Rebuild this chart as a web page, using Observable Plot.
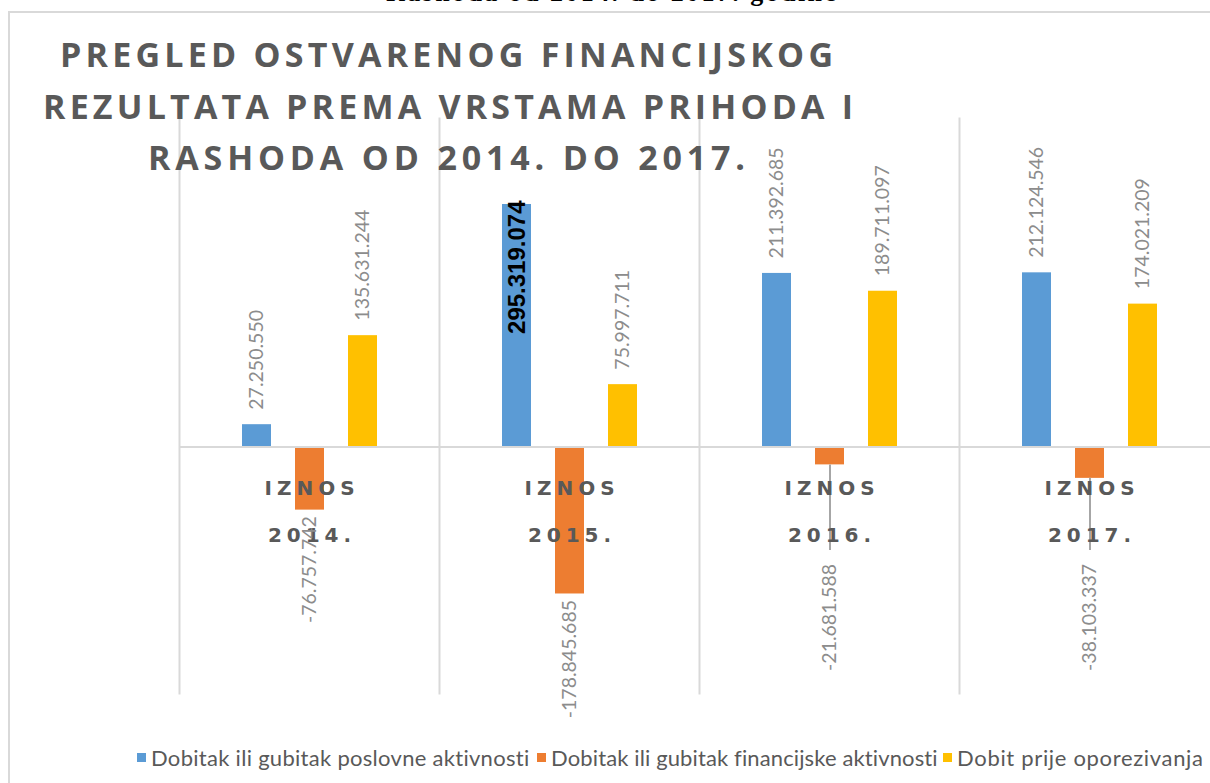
<!DOCTYPE html>
<html>
<head>
<meta charset="utf-8">
<script src="https://cdn.jsdelivr.net/npm/d3@7"></script>
<script src="https://cdn.jsdelivr.net/npm/@observablehq/plot@0.6"></script>
<style>
  html, body { margin: 0; padding: 0; background: #fff; }
  #wrap { position: relative; width: 1210px; height: 783px; overflow: hidden; background: #fff; }
  #box { position: absolute; left: 8px; top: 11px; width: 1400px; height: 1000px;
         border-left: 2px solid #d9d9d9; border-top: 2px solid #d9d9d9; }
  #chart { position: absolute; left: 0; top: 0; }
  #chart svg { max-width: none !important; }
  .fit { position: absolute; white-space: nowrap; display: inline-block; line-height: 1; }
  #topcut { font-family: "Liberation Serif", serif; font-weight: bold; font-size: 26px; color: #000; }
  .title { font-family: "Open Sans", sans-serif; font-weight: 700; font-size: 34px; color: #595959; }
  .leg { font-family: Lato, "Open Sans", sans-serif; font-size: 22px; color: #595959; }
  .sw { position: absolute; width: 9px; height: 9px; }
</style>
</head>
<body>
<div id="wrap">
  <div id="box"></div>
  <div id="chart"></div>
  <span id="topcut" class="fit" data-x="386" data-y="-20" data-w="450">Rashoda od 2014. do 2017. godine</span>
  <span class="fit title" data-x="60" data-y="37" data-w="773">PREGLED OSTVARENOG FINANCIJSKOG</span>
  <span class="fit title" data-x="43" data-y="89" data-w="810">REZULTATA PREMA VRSTAMA PRIHODA I</span>
  <span class="fit title" data-x="148" data-y="140" data-w="597">RASHODA OD 2014. DO 2017.</span>
  <div id="legend"></div>
</div>
<script>
// ---- data ----
const years = ["2014.", "2015.", "2016.", "2017."];
const series = [
  "Dobitak ili gubitak poslovne aktivnosti",
  "Dobitak ili gubitak financijske aktivnosti",
  "Dobit prije oporezivanja"
];
const poslovne    = [27250550, 295319074, 211392685, 212124546];
const financijske = [-76757742, -178845685, -21681588, -38103337];
const dobit       = [135631244, 75997711, 189711097, 174021209];
const colors = ["#5b9bd5", "#ed7d31", "#ffc000"];
const categoryPrefix = "IZNOS";
// years whose negative label was dragged away from its bar (with a leader line)
const leaderYears = ["2016.", "2017."];

const values = [poslovne, financijske, dobit];
const data = years.flatMap((year, i) =>
  series.map((s, j) => ({year, series: s, value: values[j][i]})));

const locale = d3.formatLocale({decimal: ",", thousands: ".", grouping: [3], currency: ["", ""], minus: "-"});
const fmt = locale.format(",d");
const maxValue = d3.max(data, d => d.value);

const labelAt = -135e6, leaderEnd = -126e6;
const isLeader = d => d.value < 0 && leaderYears.includes(d.year);

const chart = Plot.plot({
  width: 1230,
  height: 783,
  marginLeft: 178,
  marginRight: 11,
  marginTop: 118,
  marginBottom: 90,
  style: {background: "transparent", overflow: "visible", maxWidth: "none"},
  fx: {domain: years, padding: 0, axis: null},
  x: {domain: series, paddingInner: 0.46, paddingOuter: 1.18, axis: null},
  y: {domain: [-300e6, 400e6], axis: null},
  color: {domain: series, range: colors},
  marks: [
    Plot.frame({anchor: "left", stroke: "#d9d9d9", strokeWidth: 2}),
    Plot.barY(data, {fx: "year", x: "series", y: "value", fill: "series"}),
    Plot.ruleY([0], {stroke: "#d9d9d9", strokeWidth: 2}),
    Plot.ruleX(data.filter(isLeader), {fx: "year", x: "series", y1: "value", y2: leaderEnd, stroke: "#a6a6a6", strokeWidth: 2}),
    Plot.text(years, {fx: d => d, text: d => categoryPrefix + "\n" + d, frameAnchor: "top", lineAnchor: "middle", dy: 384.75, dx: 2.5,
      lineHeight: 2.375, fontFamily: "DejaVu Sans, sans-serif", fontWeight: "bold", fontSize: 20, fill: "#595959"}),
    Plot.text(data.filter(d => d.value > 0 && d.value !== maxValue), {fx: "year", x: "series", y: "value",
      text: d => fmt(d.value), rotate: -90, textAnchor: "start", dy: -15,
      fill: "#8c8c8c", fontSize: 19.5, fontFamily: "Lato, sans-serif"}),
    Plot.text(data.filter(d => d.value < 0), {fx: "year", x: "series", y: d => isLeader(d) ? labelAt : d.value,
      text: d => fmt(d.value), rotate: -90, textAnchor: "end", dy: 6,
      fill: "#8c8c8c", fontSize: 19.5, fontFamily: "Lato, sans-serif"}),
    Plot.text(data.filter(d => d.value === maxValue), {fx: "year", x: "series", y: "value",
      text: d => fmt(d.value), rotate: -90, textAnchor: "end", dy: -4,
      fill: "#000", fontSize: 24, fontWeight: "bold", fontFamily: "Liberation Sans, Arial, sans-serif"})
  ]
});
chart.style.maxWidth = "none";
document.getElementById("chart").appendChild(chart);
chart.querySelectorAll("text").forEach(t => {
  if (t.textContent.startsWith(categoryPrefix)) {
    t.setAttribute("letter-spacing", "5");
    t.style.letterSpacing = "5px";
  }
});

// legend
const legend = document.getElementById("legend");
const legendX = [137, 537, 943];
const legendW = [379, 387, 246];
series.forEach((s, i) => {
  const sw = document.createElement("div");
  sw.className = "sw";
  sw.style.left = legendX[i] + "px";
  sw.style.top = "753px";
  sw.style.background = colors[i];
  legend.appendChild(sw);
  const t = document.createElement("span");
  t.className = "fit leg";
  t.textContent = s;
  t.dataset.x = legendX[i] + 14;
  t.dataset.y = 747;
  t.dataset.w = legendW[i];
  legend.appendChild(t);
});

// fit texts to measured widths
document.querySelectorAll(".fit").forEach(el => {
  el.style.left = el.dataset.x + "px";
  el.style.top = el.dataset.y + "px";
  el.style.letterSpacing = "0px";
  const w = el.getBoundingClientRect().width;
  const n = el.textContent.length;
  el.style.letterSpacing = ((+el.dataset.w - w) / (n - 1)) + "px";
});
</script>
</body>
</html>
